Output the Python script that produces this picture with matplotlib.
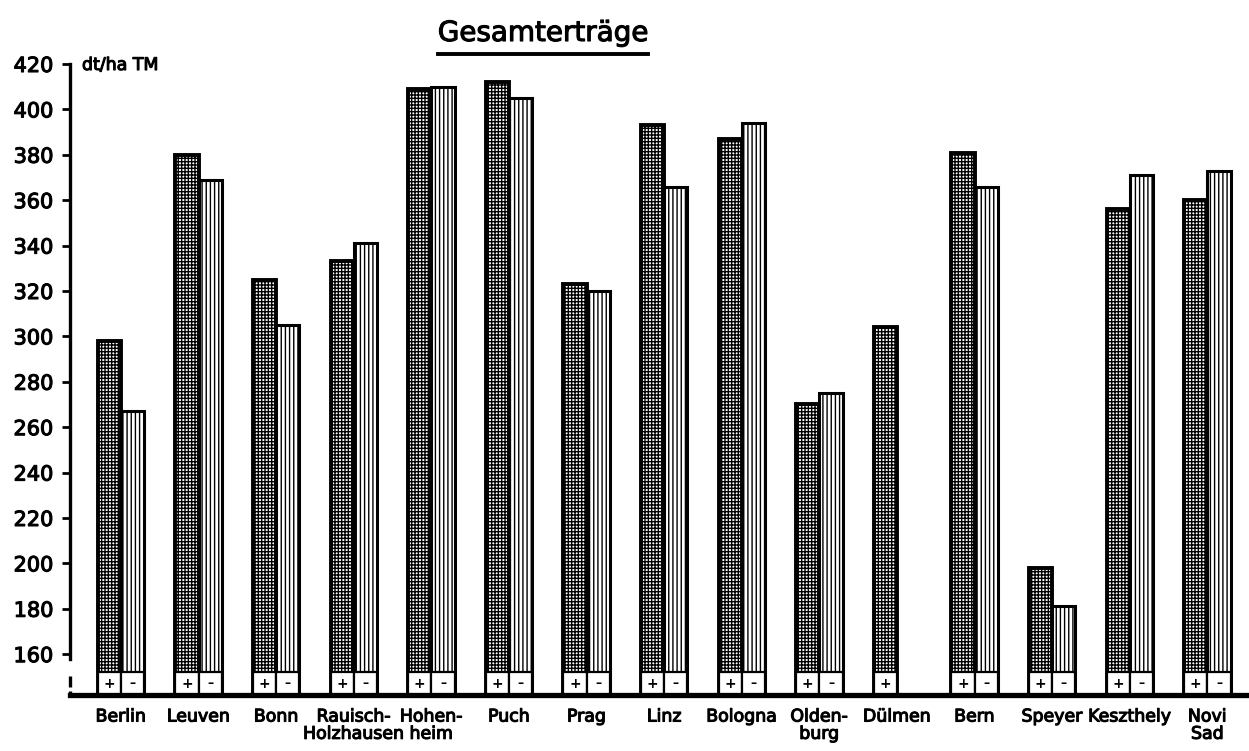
import numpy as np
import matplotlib.pyplot as plt
from matplotlib.lines import Line2D
import matplotlib.patheffects as pe

plt.rcParams['font.family'] = ['DejaVu Sans']
plt.rcParams['hatch.linewidth'] = 1.0

# Versuchsorte und Gesamterträge (dt/ha TM), jeweils mit (+) und ohne (-)
orte = ["Berlin", "Leuven", "Bonn", "Rauisch-\nHolzhausen", "Hohen-\nheim", "Puch",
        "Prag", "Linz", "Bologna", "Olden-\nburg", "Dülmen", "Bern", "Speyer",
        "Keszthely", "Novi\nSad"]
ertrag_plus = [298, 380, 325, 333, 409, 412, 323, 393, 387, 270, 304, 381, 198, 356, 360]
ertrag_minus = [267, 369, 305, 341, 410, 405, 320, 366, 394, 275, np.nan, 366, 181, 371, 373]
y_ticks = list(range(160, 421, 20))

basis = 142
feld_oben = 152
W, H = 1249, 751

# etwas kräftigere Schrift
dick = [pe.withStroke(linewidth=0.8, foreground='black')]

fig = plt.figure(figsize=(W / 100, H / 100), dpi=100)
ax = fig.add_axes([70 / W, 1 - 695 / H, 1 - 70 / W, (695 - 64) / H])

x = np.arange(len(orte))
w = 0.3
plus = np.array(ertrag_plus, dtype=float)
minus = np.array(ertrag_minus, dtype=float)
ok = ~np.isnan(minus)

ax.bar(x - w / 2, plus - basis, w, bottom=basis, facecolor='white',
       edgecolor='black', hatch='+++++', linewidth=2.8)
ax.bar(x[ok] + w / 2, minus[ok] - basis, w, bottom=basis, facecolor='white',
       edgecolor='black', hatch='||||', linewidth=2.2)

# weisse Kästchen mit Vorzeichen am Fuss der Säulen
ax.bar(x - w / 2, feld_oben - basis, w, bottom=basis, facecolor='white',
       edgecolor='black', linewidth=1.6)
ax.bar(x[ok] + w / 2, feld_oben - basis, w, bottom=basis, facecolor='white',
       edgecolor='black', linewidth=1.6)
for xi in x:
    ax.text(xi - w / 2, (basis + feld_oben) / 2, '+', ha='center', va='center',
            fontsize=10, fontweight='bold')
for xi in x[ok]:
    ax.text(xi + w / 2, (basis + feld_oben) / 2, '\u2013', ha='center', va='center',
            fontsize=9, fontweight='bold')

ax.set_xlim(-0.657, -0.657 + 1179 / 77.6)
ax.set_ylim(basis, 420)

ax.spines['top'].set_visible(False)
ax.spines['right'].set_visible(False)
ax.spines['left'].set_linewidth(2.4)
ax.spines['left'].set_bounds(158, 420)
ax.spines['bottom'].set_linewidth(3.8)

# Achsenbruch unten links
x0 = ax.get_xlim()[0]
for y1, y2 in [(145.5, 150.5), (142, 143.8)]:
    ax.add_line(Line2D([x0, x0], [y1, y2], color='black', linewidth=2.4,
                       clip_on=False, solid_capstyle='butt'))

ax.set_yticks(y_ticks)
ax.set_yticklabels([str(t) for t in y_ticks], fontsize=15)
ax.tick_params(axis='y', direction='out', length=6, width=2, pad=6)

ax.set_xticks(x)
ax.set_xticklabels(orte, fontsize=12.5, linespacing=0.95)
ax.tick_params(axis='x', length=0, pad=9)

for t in ax.get_xticklabels() + ax.get_yticklabels():
    t.set_path_effects(dick)

fig.text(82 / W, 1 - 70 / H, 'dt/ha TM', fontsize=12.5, path_effects=dick)

titel = fig.text(543 / W, 1 - 33 / H, 'Gesamterträge', ha='center', va='center',
                 fontsize=20, path_effects=dick)
fig.canvas.draw()
bb = titel.get_window_extent().transformed(fig.transFigure.inverted())
fig.add_artist(Line2D([bb.x0, bb.x1], [bb.y0 - 0.009, bb.y0 - 0.009],
                      color='black', linewidth=2.8, transform=fig.transFigure))

fig.savefig('out.png', dpi=100, facecolor='white')
